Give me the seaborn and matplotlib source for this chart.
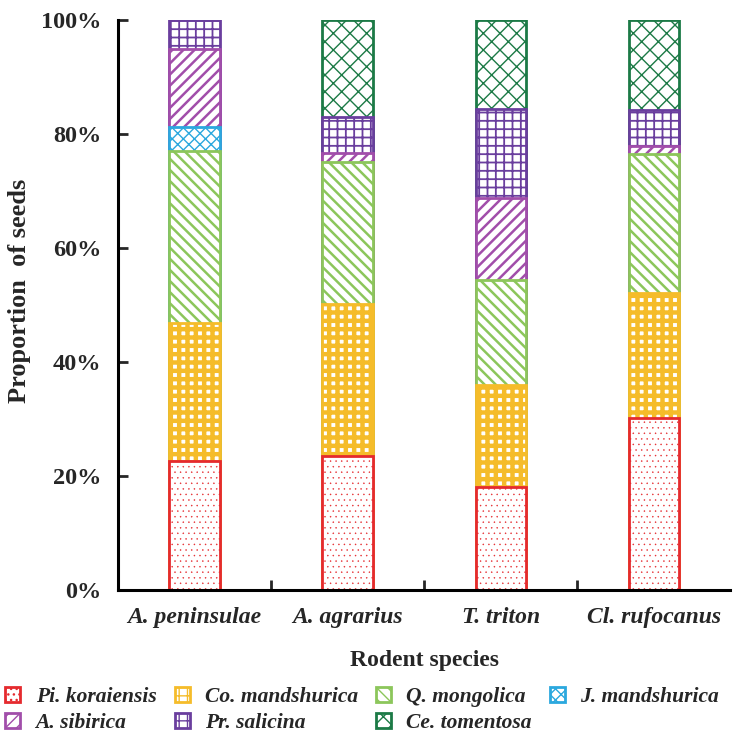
import numpy as np
import pandas as pd
import matplotlib
matplotlib.use("Agg")
import matplotlib.pyplot as plt
import seaborn as sns
from matplotlib.patches import Patch

# ======================================
# DATA (percent of seeds per rodent)
# ======================================

rodents = ["A. peninsulae", "A. agrarius", "T. triton", "Cl. rufocanus"]
seed_species = ["Pi. koraiensis", "Co. mandshurica", "Q. mongolica", "J. mandshurica",
                "A. sibirica", "Pr. salicina", "Ce. tomentosa"]

pi_koraiensis = [22.6, 23.5, 18.1, 30.2]
co_mandshurica = [24.2, 26.7, 17.9, 21.9]
q_mongolica = [30.2, 24.8, 18.4, 24.4]
j_mandshurica = [4.2, 0.0, 0.0, 0.0]
a_sibirica = [13.7, 1.7, 14.4, 1.4]
pr_salicina = [5.1, 6.3, 15.6, 6.3]
ce_tomentosa = [0.0, 17.0, 15.6, 15.8]

colors = ["#E52A2E", "#F5BC2A", "#8CC65B", "#2BA8DE", "#A14EAA", "#6A3E9E", "#1C7A46"]
hatches = ["...", "++", "\\\\\\", "xxx", "///", "++", "xx"]
hatch_widths = [0.3, 3.2, 1.8, 1.0, 1.8, 1.3, 1.0]

values = np.array([pi_koraiensis, co_mandshurica, q_mongolica, j_mandshurica,
                   a_sibirica, pr_salicina, ce_tomentosa])
cumulative = values.cumsum(axis=0)


def style_patch(patch, i):
    patch.set_facecolor("white")
    patch.set_edgecolor(colors[i])
    patch.set_hatch(hatches[i])
    patch.set_linewidth(2.0)
    if hasattr(patch, "set_hatch_linewidth"):
        patch.set_hatch_linewidth(hatch_widths[i])


# ======================================
# PLOT
# ======================================

sns.set_style("ticks")
plt.rcParams["font.family"] = ["Liberation Serif", "DejaVu Serif"]
plt.rcParams["font.weight"] = "bold"

fig = plt.figure(figsize=(7.34, 7.38), dpi=100)
ax = fig.add_axes([0.161, 0.2005, 0.834, 0.7725])

# draw cumulative totals from top segment down so each covers the one above
for i in reversed(range(len(seed_species))):
    df = pd.DataFrame({"rodent": rodents, "value": cumulative[i]})
    sns.barplot(data=df, x="rodent", y="value", ax=ax, color="white",
                width=0.33, saturation=1, errorbar=None)
    for patch, v in zip(ax.containers[-1], values[i]):
        style_patch(patch, i)
        if v <= 0:
            patch.set_visible(False)

ax.set_xlim(-0.5, 3.5)
ax.set_ylim(0, 100)
ax.set_yticks([0, 20, 40, 60, 80, 100])
ax.set_yticklabels([f"{t}%" for t in [0, 20, 40, 60, 80, 100]], fontsize=17.5, fontweight="bold")
ax.set_xticks([0.5, 1.5, 2.5], minor=False)
ax.set_xticks([0, 1, 2, 3], minor=True)
ax.set_xticklabels([])
ax.set_xticklabels(rodents, minor=True, fontsize=17, fontweight="bold", style="italic")
ax.tick_params(axis="x", which="major", direction="in", length=7, width=2)
ax.tick_params(axis="x", which="minor", length=0, pad=12)
ax.tick_params(axis="y", direction="in", length=7, width=2, pad=12)

ax.set_xlabel("Rodent species", fontsize=17, fontweight="bold", labelpad=16)
ax.set_ylabel("Proportion  of seeds", fontsize=19, fontweight="bold")
ax.yaxis.set_label_coords(-0.142, 0.525)

for side in ["top", "right"]:
    ax.spines[side].set_visible(False)
for side in ["left", "bottom"]:
    ax.spines[side].set_linewidth(2.2)
    ax.spines[side].set_color("black")

# legend: rows Pi, Co, Q, J / A, Pr, Ce (matplotlib fills by column)
handles = []
for i in range(len(seed_species)):
    h = Patch(label=seed_species[i])
    style_patch(h, i)
    handles.append(h)
order = [0, 4, 1, 5, 2, 6, 3]
fig.legend([handles[k] for k in order], [seed_species[k] for k in order],
           loc="lower left", bbox_to_anchor=(0.0, 0.0), ncol=4, frameon=False,
           prop={"size": 15.5, "weight": "bold", "style": "italic"},
           handlelength=0.7, handleheight=0.7, handletextpad=0.7,
           columnspacing=0.85, labelspacing=0.25, borderaxespad=0.0, borderpad=0.25)

plt.savefig("out.png", dpi=100)
plt.close()
